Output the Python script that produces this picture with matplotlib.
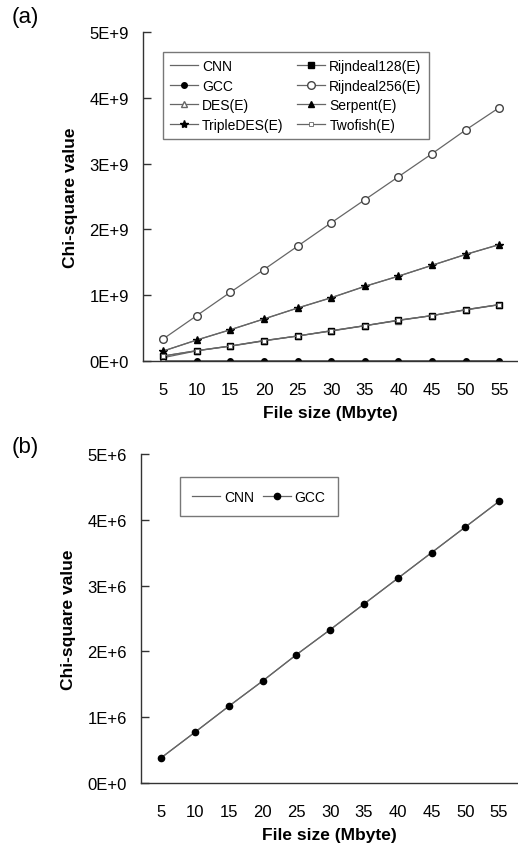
import matplotlib
matplotlib.use("Agg")
import matplotlib.pyplot as plt

plt.rcParams['font.family'] = ['Liberation Sans', 'DejaVu Sans']

# file sizes (Mbyte)
sizes = [5, 10, 15, 20, 25, 30, 35, 40, 45, 50, 55]

# chi-square values, panel (a)
gcc = [0.39e6, 0.78e6, 1.17e6, 1.56e6, 1.95e6, 2.34e6, 2.73e6, 3.12e6, 3.51e6, 3.90e6, 4.29e6]
cnn = [0.39e6, 0.78e6, 1.17e6, 1.56e6, 1.95e6, 2.34e6, 2.73e6, 3.12e6, 3.51e6, 3.90e6, 4.29e6]
des = [0.05e9, 0.155e9, 0.225e9, 0.305e9, 0.38e9, 0.455e9, 0.535e9, 0.615e9, 0.69e9, 0.775e9, 0.855e9]
triple_des = [0.152e9, 0.32e9, 0.476e9, 0.64e9, 0.806e9, 0.963e9, 1.135e9, 1.29e9, 1.455e9, 1.62e9, 1.77e9]
rijndeal128 = [0.076e9, 0.157e9, 0.228e9, 0.31e9, 0.38e9, 0.46e9, 0.537e9, 0.62e9, 0.69e9, 0.78e9, 0.857e9]
rijndeal256 = [0.335e9, 0.69e9, 1.045e9, 1.39e9, 1.745e9, 2.10e9, 2.45e9, 2.80e9, 3.15e9, 3.51e9, 3.85e9]
serpent = [0.15e9, 0.318e9, 0.474e9, 0.638e9, 0.804e9, 0.96e9, 1.133e9, 1.288e9, 1.453e9, 1.618e9, 1.768e9]
twofish = [0.076e9, 0.157e9, 0.228e9, 0.31e9, 0.38e9, 0.46e9, 0.537e9, 0.62e9, 0.69e9, 0.78e9, 0.857e9]

# panel (b)
gcc_b = [0.384e6, 0.773e6, 1.167e6, 1.55e6, 1.95e6, 2.33e6, 2.72e6, 3.11e6, 3.50e6, 3.89e6, 4.28e6]
cnn_b = [0.384e6, 0.773e6, 1.167e6, 1.55e6, 1.95e6, 2.33e6, 2.72e6, 3.11e6, 3.50e6, 3.89e6, 4.28e6]

yticks_a = [0, 1e9, 2e9, 3e9, 4e9, 5e9]
ylabels_a = ['0E+0', '1E+9', '2E+9', '3E+9', '4E+9', '5E+9']
yticks_b = [0, 1e6, 2e6, 3e6, 4e6, 5e6]
ylabels_b = ['0E+0', '1E+6', '2E+6', '3E+6', '4E+6', '5E+6']

LINE = '#666666'
AXC = '#333333'

fig = plt.figure(figsize=(5.18, 8.45), dpi=100)
W, H = 518.0, 845.0
ax1 = fig.add_axes([143 / W, 1 - 362 / H, (518 - 143) / W, 329 / H])
ax2 = fig.add_axes([141 / W, 1 - 784 / H, (518 - 141) / W, 329 / H])


def style(ax, yt, yl):
    ax.set_xlim(2.0, 57.8)
    ax.set_ylim(0, yt[-1])
    for s in ['top', 'right']:
        ax.spines[s].set_visible(False)
    for s in ['left', 'bottom']:
        ax.spines[s].set_color(AXC)
        ax.spines[s].set_linewidth(1.0)
    ax.set_xticks(sizes)
    ax.set_xticklabels([str(v) for v in sizes])
    ax.set_yticks(yt)
    ax.set_yticklabels(yl)
    ax.tick_params(axis='x', length=0, pad=15, labelsize=12)
    ax.tick_params(axis='y', direction='in', length=6, width=1.0, color=AXC,
                   pad=10, labelsize=12)
    ax.set_xlabel('File size (Mbyte)', fontsize=12.5, fontweight='bold', labelpad=6)
    ax.set_ylabel('Chi-square value', fontsize=12.5, fontweight='bold', labelpad=8)


lw = 0.9
ax1.plot(sizes, cnn, color=LINE, lw=lw, label='CNN')
ax1.plot(sizes, gcc, color=LINE, lw=lw, marker='o', ms=4, mfc='k', mec='k', label='GCC')
ax1.plot(sizes, des, color=LINE, lw=lw, marker='^', ms=4, mfc='white', mec=LINE, label='DES(E)')
ax1.plot(sizes, triple_des, color=LINE, lw=lw, marker='*', ms=6, mfc='k', mec='k', label='TripleDES(E)')
ax1.plot(sizes, rijndeal128, color=LINE, lw=lw, marker='s', ms=4.5, mfc='k', mec='k', label='Rijndeal128(E)')
ax1.plot(sizes, rijndeal256, color=LINE, lw=lw, marker='o', ms=5.5, mfc='white', mec='#444444', label='Rijndeal256(E)')
ax1.plot(sizes, serpent, color=LINE, lw=lw, marker='^', ms=4, mfc='k', mec='k', label='Serpent(E)')
ax1.plot(sizes, twofish, color=LINE, lw=lw, marker='s', ms=3, mfc='white', mec=LINE, mew=0.6, label='Twofish(E)')
style(ax1, yticks_a, ylabels_a)

leg1 = ax1.legend(ncol=2, loc='upper left', bbox_to_anchor=(0.035, 0.96), fontsize=10,
                  frameon=True, fancybox=False, edgecolor='#555555', handlelength=2.0,
                  handletextpad=0.3, columnspacing=1.0, labelspacing=0.4, borderpad=0.5)
leg1.get_frame().set_linewidth(1.0)

ax2.plot(sizes, cnn_b, color=LINE, lw=lw, label='CNN')
ax2.plot(sizes, gcc_b, color=LINE, lw=lw, marker='o', ms=4.5, mfc='k', mec='k', label='GCC')
style(ax2, yticks_b, ylabels_b)
leg2 = ax2.legend(ncol=2, loc='upper left', bbox_to_anchor=(0.085, 0.95), fontsize=10,
                  frameon=True, fancybox=False, edgecolor='#555555', handlelength=2.0,
                  handletextpad=0.3, columnspacing=0.6, borderpad=0.9)
leg2.get_frame().set_linewidth(1.0)

fig.text(12 / W, 1 - 18 / H, '(a)', fontsize=16, va='center', ha='left')
fig.text(12 / W, 1 - 448 / H, '(b)', fontsize=16, va='center', ha='left')

fig.savefig('out.png', dpi=100)
